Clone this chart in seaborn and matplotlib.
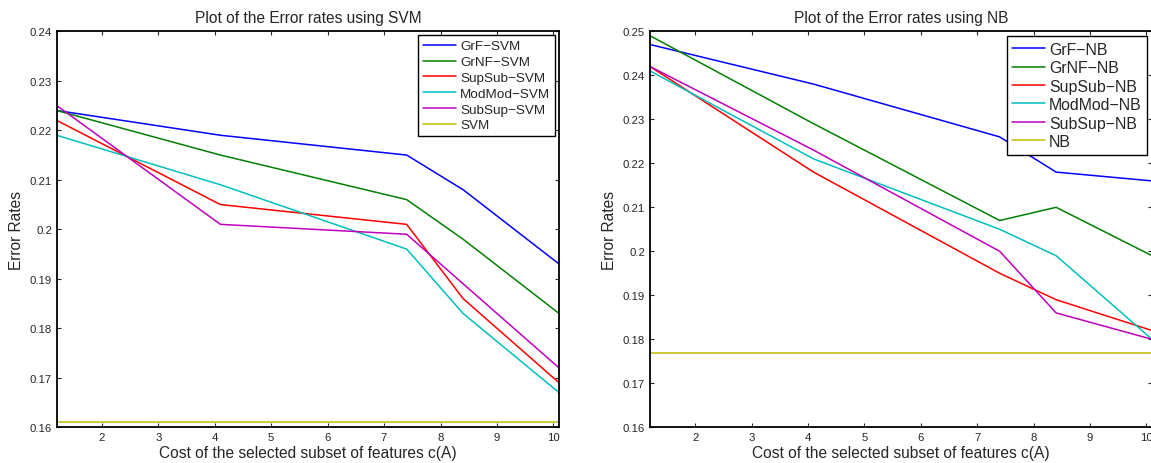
import matplotlib
matplotlib.use("Agg")
import matplotlib.pyplot as plt
import seaborn as sns
import pandas as pd

# ---------------- data ----------------
cost = [1.2, 4.1, 7.4, 8.4, 10.1]

svm_labels = ["GrF\u2212SVM", "GrNF\u2212SVM", "SupSub\u2212SVM", "ModMod\u2212SVM", "SubSup\u2212SVM", "SVM"]
grf_svm    = [0.224, 0.219, 0.215, 0.208, 0.193]
grnf_svm   = [0.224, 0.215, 0.206, 0.198, 0.183]
supsub_svm = [0.222, 0.205, 0.201, 0.186, 0.169]
modmod_svm = [0.219, 0.209, 0.196, 0.183, 0.167]
subsup_svm = [0.225, 0.201, 0.199, 0.189, 0.172]
svm_base   = [0.161, 0.161, 0.161, 0.161, 0.161]

nb_labels = ["GrF\u2212NB", "GrNF\u2212NB", "SupSub\u2212NB", "ModMod\u2212NB", "SubSup\u2212NB", "NB"]
grf_nb    = [0.247, 0.238, 0.226, 0.218, 0.216]
grnf_nb   = [0.249, 0.229, 0.207, 0.210, 0.199]
supsub_nb = [0.242, 0.218, 0.195, 0.189, 0.182]
modmod_nb = [0.241, 0.221, 0.205, 0.199, 0.180]
subsup_nb = [0.242, 0.223, 0.200, 0.186, 0.180]
nb_base   = [0.177, 0.177, 0.177, 0.177, 0.177]

x_ticks = [2, 3, 4, 5, 6, 7, 8, 9, 10]
svm_yticks = [0.16, 0.17, 0.18, 0.19, 0.20, 0.21, 0.22, 0.23, 0.24]
svm_yticklabels = ["0.16", "0.17", "0.18", "0.19", "0.2", "0.21", "0.22", "0.23", "0.24"]
nb_yticks = [0.16, 0.17, 0.18, 0.19, 0.20, 0.21, 0.22, 0.23, 0.24, 0.25]
nb_yticklabels = ["0.16", "0.17", "0.18", "0.19", "0.2", "0.21", "0.22", "0.23", "0.24", "0.25"]

colors = [(0, 0, 1), (0, 0.5, 0), (1, 0, 0), (0, 0.75, 0.75), (0.75, 0, 0.75), (0.75, 0.75, 0)]

sns.set_style("ticks")
plt.rcParams["font.family"] = ["Liberation Sans", "DejaVu Sans"]

fig = plt.figure(figsize=(11.51, 4.64), dpi=100)
ax1 = fig.add_axes([0.0493, 0.0769, 0.4364, 0.8535])
ax2 = fig.add_axes([0.5647, 0.0769, 0.4362, 0.8535])


def long_df(labels, series):
    rows = []
    for lab, vals in zip(labels, series):
        for xv, yv in zip(cost, vals):
            rows.append({"cost": xv, "err": yv, "method": lab})
    return pd.DataFrame(rows)


def draw(ax, labels, series, title, yticks, yticklabels, ylim, legfs, legspacing, handlelen, textpad):
    df = long_df(labels, series)
    sns.lineplot(data=df, x="cost", y="err", hue="method", hue_order=labels,
                 palette=dict(zip(labels, colors)), ax=ax, linewidth=1.1,
                 estimator=None, sort=False)
    ax.set_xlim(1.2, 10.1)
    ax.set_ylim(*ylim)
    ax.set_xticks(x_ticks)
    ax.set_xticklabels([str(t) for t in x_ticks])
    ax.set_yticks(yticks)
    ax.set_yticklabels(yticklabels)
    ax.tick_params(direction="in", length=3, width=0.8, labelsize=8.2, top=True, right=True, pad=3.5)
    for s in ax.spines.values():
        s.set_visible(True)
        s.set_linewidth(1.3)
        s.set_color("black")
    ax.set_title(title, fontsize=11.2, pad=7)
    ax.set_xlabel("Cost of the selected subset of features c(A)", fontsize=11.2, labelpad=2)
    ax.set_ylabel("Error Rates", fontsize=11.2, labelpad=4)
    leg = ax.legend(loc="upper right", fontsize=legfs, frameon=True, fancybox=False,
                    edgecolor="black", framealpha=1, borderaxespad=0.3,
                    labelspacing=legspacing, handlelength=handlelen,
                    handletextpad=textpad, borderpad=0.35)
    leg.get_frame().set_linewidth(1.0)
    for h in leg.get_lines():
        h.set_linewidth(1.1)


draw(ax1, svm_labels, [grf_svm, grnf_svm, supsub_svm, modmod_svm, subsup_svm, svm_base],
     "Plot of the Error rates using SVM", svm_yticks, svm_yticklabels, (0.16, 0.24),
     9.7, 0.25, 2.45, 0.3)
draw(ax2, nb_labels, [grf_nb, grnf_nb, supsub_nb, modmod_nb, subsup_nb, nb_base],
     "Plot of the Error rates using NB", nb_yticks, nb_yticklabels, (0.16, 0.25),
     11.4, 0.22, 2.1, 0.23)

fig.savefig("out.png", dpi=100)
